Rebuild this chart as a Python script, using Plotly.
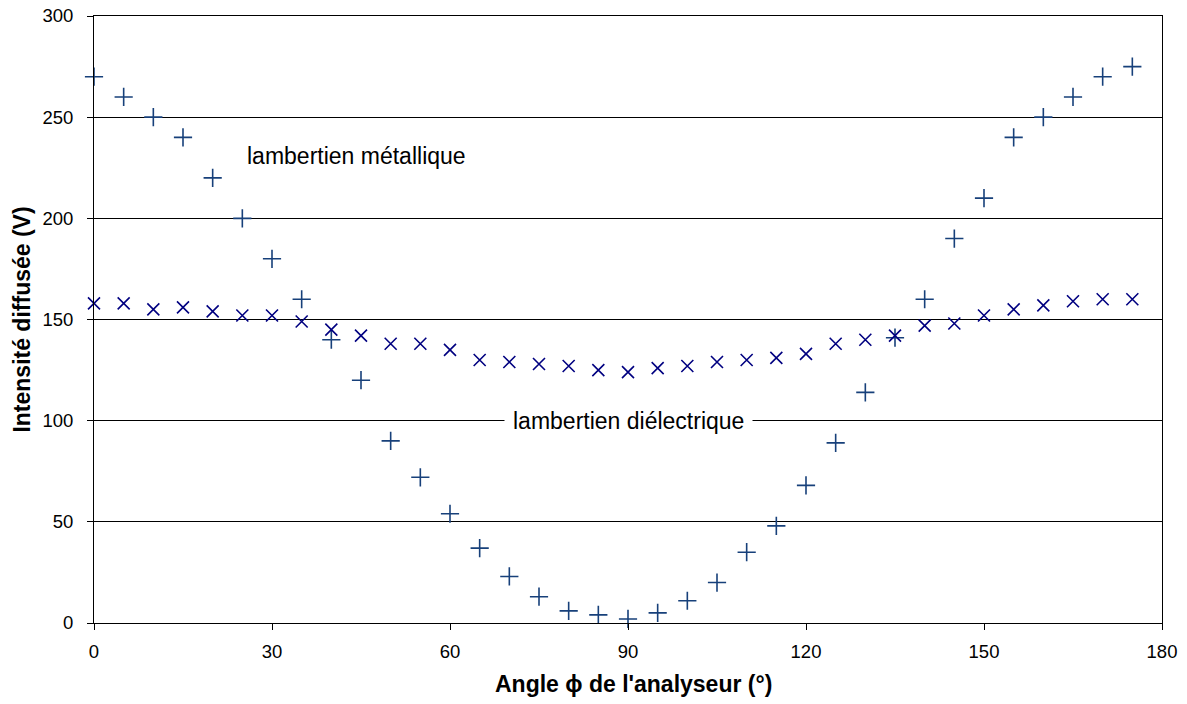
import plotly.graph_objects as go

angles = [0, 5, 10, 15, 20, 25, 30, 35, 40, 45, 50, 55, 60, 65, 70, 75, 80, 85,
          90, 95, 100, 105, 110, 115, 120, 125, 130, 135, 140, 145, 150, 155, 160, 165, 170, 175]

metallique = [270, 260, 250, 240, 220, 200, 180, 160, 140, 120, 90, 72, 54, 37, 23, 13, 6, 4,
              2, 5, 11, 20, 35, 48, 68, 89, 114, 141, 160, 190, 210, 240, 250, 260, 270, 275]

dielectrique = [158, 158, 155, 156, 154, 152, 152, 149, 145, 142, 138, 138, 135, 130, 129, 128, 127, 125,
                124, 126, 127, 129, 130, 131, 133, 138, 140, 142, 147, 148, 152, 155, 157, 159, 160, 160]

x_ticks = [0, 30, 60, 90, 120, 150, 180]
y_ticks = [0, 50, 100, 150, 200, 250, 300]

fig = go.Figure()

fig.add_trace(go.Scatter(
    x=angles, y=metallique, mode='markers', name='lambertien métallique',
    marker=dict(symbol='cross-thin', size=13, line=dict(color='#17407A', width=1.6)),
    cliponaxis=False,
))

fig.add_trace(go.Scatter(
    x=angles, y=dielectrique, mode='markers', name='lambertien diélectrique',
    marker=dict(symbol='x-thin', size=12, line=dict(color='#000080', width=1.6)),
    cliponaxis=False,
))

fig.add_annotation(x=25.5, y=231, text='lambertien métallique', showarrow=False,
                   xanchor='left', yanchor='middle', font=dict(size=23, color='black'))
fig.add_annotation(x=90, y=100, text='lambertien diélectrique', showarrow=False,
                   xanchor='center', yanchor='middle', font=dict(size=23, color='black'),
                   bgcolor='white', borderpad=8)

# x axis title as a paper annotation so it does not push the margin
fig.add_annotation(xref='paper', yref='paper', x=0.505, y=0, yshift=-46,
                   xanchor='center', yanchor='top', showarrow=False,
                   text="<b>Angle ϕ de l'analyseur (°)</b>", font=dict(size=23, color='black'))

fig.update_layout(
    width=1187, height=704,
    margin=dict(l=94, r=25, t=16, b=81),
    plot_bgcolor='white', paper_bgcolor='white',
    showlegend=False,
    font=dict(family='Liberation Sans, Arial, sans-serif', size=18.5, color='black'),
    xaxis=dict(
        range=[0, 180], tickvals=x_ticks, showgrid=False, zeroline=False,
        showline=True, linecolor='black', linewidth=1, mirror=True,
        ticks='outside', ticklen=6, tickcolor='black', ticklabelstandoff=6,
        ticklabeloverflow='allow', automargin=False,
    ),
    yaxis=dict(
        range=[0, 300], tickvals=y_ticks, showgrid=True, gridcolor='black', gridwidth=1,
        zeroline=False, showline=True, linecolor='black', linewidth=1, mirror=True,
        ticks='outside', ticklen=6, tickcolor='black', ticklabelstandoff=10,
        ticklabeloverflow='allow', automargin='left',
        title=dict(text='<b>Intensité diffusée (V)</b>', font=dict(size=23), standoff=5),
    ),
)

fig.write_html("out.html", config={'displayModeBar': False},
               post_script="document.body.style.margin='0';")
